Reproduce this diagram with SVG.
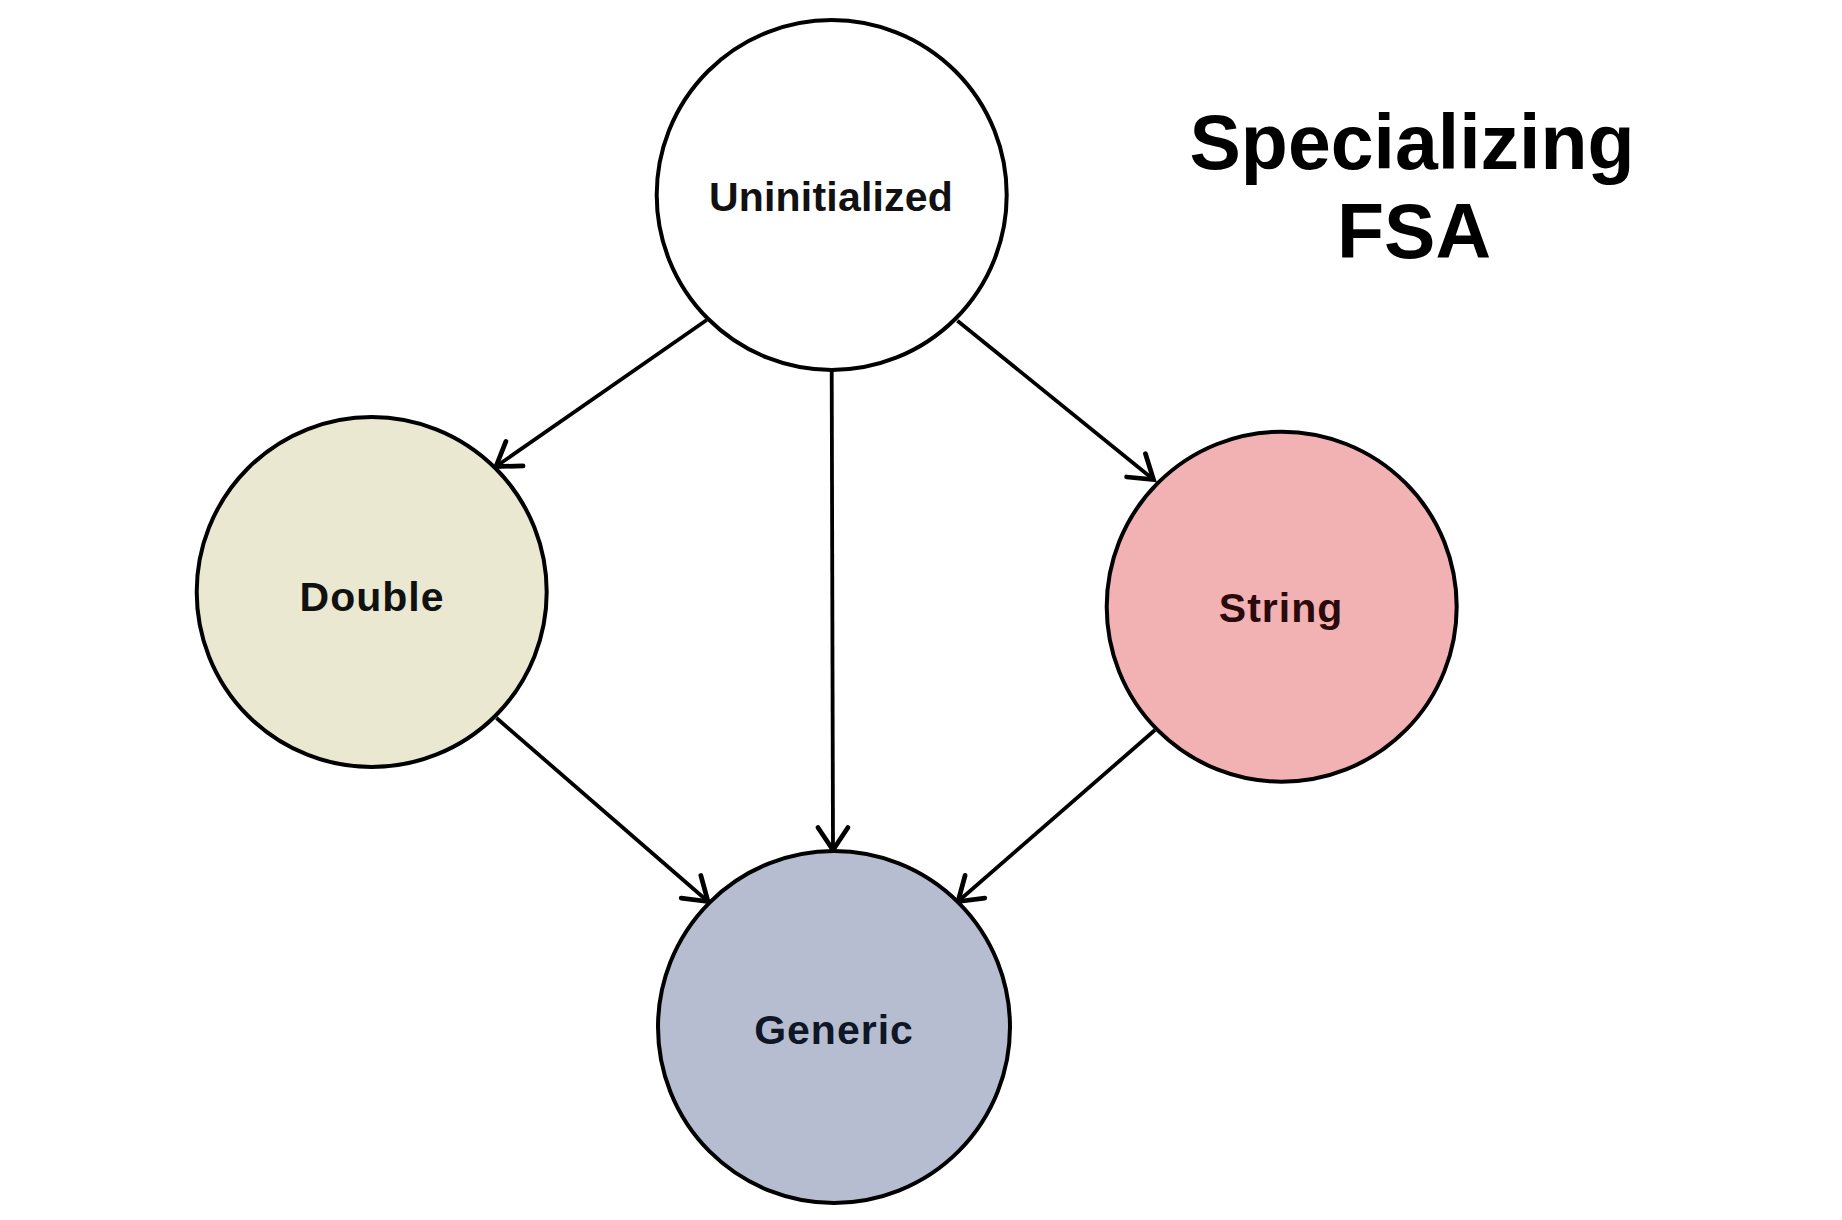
<svg xmlns="http://www.w3.org/2000/svg" width="1842" height="1220" viewBox="0 0 1842 1220">
  <style>
    .node { stroke: #000; stroke-width: 4; }
    .label { font-family: "Liberation Sans", Arial, sans-serif; font-weight: bold; font-size: 41px; letter-spacing: 1px; text-anchor: middle; }
    .title { font-family: "Liberation Sans", Arial, sans-serif; font-weight: bold; font-size: 77px; text-anchor: middle; fill: #000; }
    .edge { stroke: #000; stroke-width: 3.8; fill: none; marker-end: url(#arrow); }
  </style>
  <defs>
    <marker id="arrow" markerUnits="userSpaceOnUse" markerWidth="40" markerHeight="40" viewBox="-22 -16 26 32" refX="0" refY="0" orient="auto">
      <path d="M -18,-12 L 0,0 L -18,12" fill="none" stroke="#000" stroke-width="3.8" stroke-linecap="round" stroke-linejoin="miter"/>
    </marker>
  </defs>
  <rect x="0" y="0" width="1842" height="1220" fill="#ffffff"/>

  <g id="edges">
    <line class="edge" x1="706.7" y1="320" x2="496" y2="466.5"/>
    <line class="edge" x1="831.7" y1="370" x2="833" y2="850"/>
    <line class="edge" x1="957.4" y1="320.7" x2="1153.5" y2="479.5"/>
    <line class="edge" x1="496.5" y1="718" x2="708" y2="901.5"/>
    <line class="edge" x1="1155" y1="730" x2="958" y2="901.5"/>
  </g>

  <g id="node-uninitialized">
    <circle class="node" cx="831.7" cy="195" r="175" fill="#ffffff"/>
    <text class="label" x="831" y="211" fill="#111" style="letter-spacing:0.2px">Uninitialized</text>
  </g>
  <g id="node-double">
    <circle class="node" cx="371.7" cy="592" r="175" fill="#eae8d0"/>
    <text class="label" x="372" y="610.5" fill="#111">Double</text>
  </g>
  <g id="node-string">
    <circle class="node" cx="1281.7" cy="606.7" r="175" fill="#f2b1b3" stroke="#1a0505"/>
    <text class="label" x="1281" y="622" fill="#2a0a0a">String</text>
  </g>
  <g id="node-generic">
    <circle class="node" cx="834" cy="1027" r="176" fill="#b7bdd0" stroke="#0a0f1a"/>
    <text class="label" x="834" y="1044" fill="#0f1626">Generic</text>
  </g>

  <g id="title">
    <text class="title" x="1412" y="169">Specializing</text>
    <text class="title" x="1414" y="258">FSA</text>
  </g>
</svg>
